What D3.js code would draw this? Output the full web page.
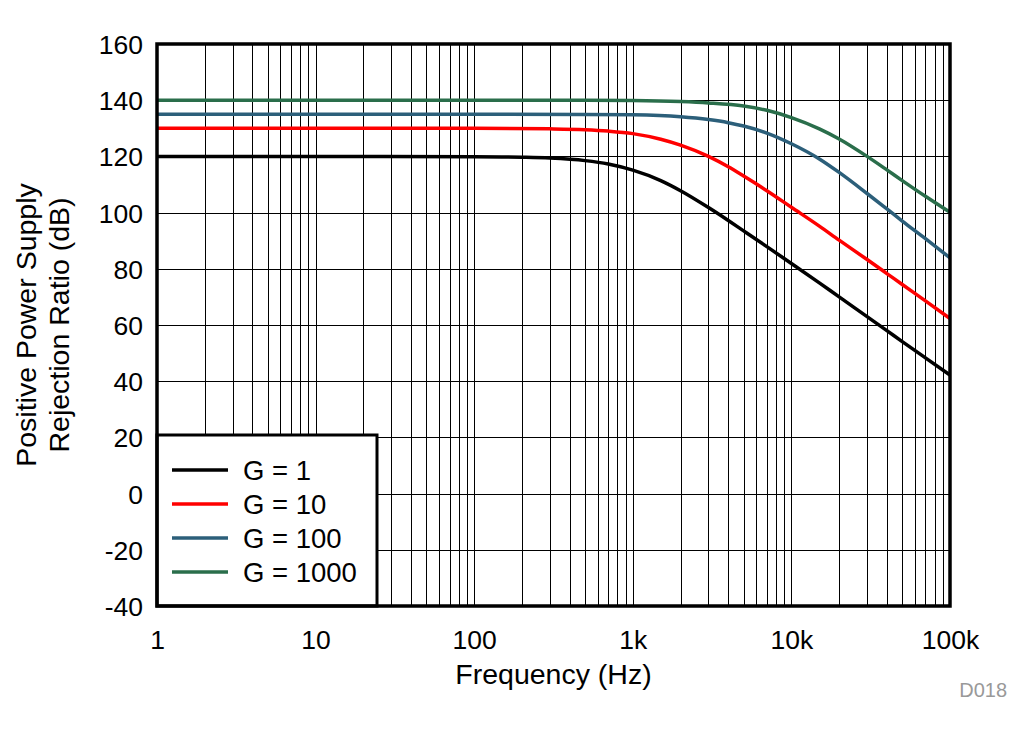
<!DOCTYPE html>
<html>
<head>
<meta charset="utf-8">
<script src="https://cdn.jsdelivr.net/npm/d3@7"></script>
<style>
  html, body { margin: 0; padding: 0; background: #fff; }
  svg { display: block; font-family: "Liberation Sans", Arial, sans-serif; }
</style>
</head>
<body>
<svg id="chart" width="1033" height="734"></svg>
<script>
// ---------------- data ----------------
const freqs1 = [1, 10, 100, 200, 300, 500, 700, 1000, 1500, 2000, 3000, 4000, 5000, 7000, 10000, 15000, 20000, 30000, 40000, 50000, 70000, 100000];
const g1     = [120, 120, 119.9, 119.7, 119.4, 118.5, 117.3, 115.1, 111.4, 107.8, 101.8, 97.2, 93.5, 87.9, 81.9, 75.0, 70.0, 63.0, 58.0, 54.1, 48.3, 42.2];

const freqs10 = [1, 10, 100, 300, 500, 700, 1000, 1500, 2000, 3000, 4000, 5000, 7000, 10000, 15000, 20000, 30000, 40000, 50000, 70000, 100000];
const g10     = [130, 130, 130, 129.8, 129.5, 129.0, 128.1, 126.1, 124.0, 120.0, 116.3, 113.0, 107.8, 101.9, 95.2, 90.2, 83.3, 78.3, 74.4, 68.6, 62.3];

const freqs100 = [1, 10, 100, 500, 1000, 2000, 3000, 4000, 5000, 7000, 10000, 15000, 20000, 30000, 40000, 50000, 70000, 100000];
const g100     = [135, 135, 135, 134.95, 134.8, 134.1, 133.1, 132.0, 130.8, 128.3, 124.5, 119.1, 114.3, 106.8, 101.3, 97.0, 90.7, 83.9];

const freqs1000 = [1, 10, 100, 500, 1000, 2000, 3000, 5000, 7000, 10000, 15000, 20000, 30000, 40000, 50000, 70000, 100000];
const g1000     = [140, 140, 140, 140, 139.9, 139.5, 139.0, 137.9, 136.4, 133.8, 129.8, 126.2, 120.0, 115.2, 111.4, 105.8, 100.1];

const seriesNames = ["G = 1", "G = 10", "G = 100", "G = 1000"];
const seriesColors = ["#000000", "#ff0000", "#2c5f7a", "#2a6e4b"];

const xTickValues = [1, 10, 100, 1000, 10000, 100000];
const xTickLabels = ["1", "10", "100", "1k", "10k", "100k"];
const yTickValues = [-40, -20, 0, 20, 40, 60, 80, 100, 120, 140, 160];

const xTitle = "Frequency (Hz)";
const yTitleLines = ["Positive Power Supply", "Rejection Ratio (dB)"];
const footnote = "D018";

// ---------------- chart ----------------
const svg = d3.select("#chart");
const L = 157, R = 950, T = 44, B = 606;

const x = d3.scaleLog().domain([1, 1e5]).range([L, R]);
const y = d3.scaleLinear().domain([-40, 160]).range([B, T]);

// grid
const grid = svg.append("g").attr("stroke", "#000").attr("stroke-width", 1).attr("shape-rendering", "crispEdges");
const minorX = [];
for (let e = 0; e < 5; e++) for (let m = 1; m <= 9; m++) minorX.push(m * Math.pow(10, e));
grid.selectAll("line.vx").data(minorX).enter().append("line")
  .attr("x1", d => Math.round(x(d)) + 0.5).attr("x2", d => Math.round(x(d)) + 0.5)
  .attr("y1", T).attr("y2", B);
grid.selectAll("line.hy").data(yTickValues).enter().append("line")
  .attr("y1", d => Math.round(y(d)) + 0.5).attr("y2", d => Math.round(y(d)) + 0.5)
  .attr("x1", L).attr("x2", R);

// curves
const series = [
  { f: freqs1, v: g1 },
  { f: freqs10, v: g10 },
  { f: freqs100, v: g100 },
  { f: freqs1000, v: g1000 }
];
const line = d3.line().x(d => x(d[0])).y(d => y(d[1])).curve(d3.curveMonotoneX);
series.forEach((s, i) => {
  const pts = s.f.map((f, k) => [f, s.v[k]]);
  svg.append("path").datum(pts)
    .attr("d", line)
    .attr("fill", "none")
    .attr("stroke", seriesColors[i])
    .attr("stroke-width", 3.5);
});

// legend
const leg = svg.append("g");
leg.append("rect").attr("x", L).attr("y", 435).attr("width", 377 - L).attr("height", B - 435)
  .attr("fill", "#fff").attr("stroke", "#000").attr("stroke-width", 3);
seriesNames.forEach((n, i) => {
  const yy = 470 + i * 34;
  leg.append("line").attr("x1", 172).attr("x2", 228).attr("y1", yy).attr("y2", yy)
    .attr("stroke", seriesColors[i]).attr("stroke-width", 3.5);
  leg.append("text").attr("x", 243).attr("y", yy).attr("dy", "0.36em")
    .attr("font-size", 27.5).attr("fill", "#000").text(n);
});

// frame
svg.append("rect").attr("x", L).attr("y", T).attr("width", R - L).attr("height", B - T)
  .attr("fill", "none").attr("stroke", "#000").attr("stroke-width", 3.5);

// axes
const xAxis = d3.axisBottom(x).tickValues(xTickValues).tickFormat((d, i) => xTickLabels[i]).tickSize(0).tickPadding(0);
const gx = svg.append("g").attr("transform", `translate(0,${B})`).call(xAxis);
gx.select(".domain").remove();
gx.selectAll("text").attr("font-size", 26.5).attr("fill", "#000").attr("font-family", "Liberation Sans, Arial, sans-serif")
  .attr("dy", null).attr("y", 43);

const yAxis = d3.axisLeft(y).tickValues(yTickValues).tickFormat(d => String(d)).tickSize(0).tickPadding(0);
const gy = svg.append("g").attr("transform", `translate(143,0)`).call(yAxis);
gy.select(".domain").remove();
gy.selectAll("text").attr("font-size", 26.5).attr("fill", "#000").attr("font-family", "Liberation Sans, Arial, sans-serif")
  .attr("x", 0).attr("dy", "0.36em");

// titles
svg.append("text").attr("x", (L + R) / 2).attr("y", 684).attr("text-anchor", "middle")
  .attr("font-size", 28.5).attr("fill", "#000").text(xTitle);

yTitleLines.forEach((t, i) => {
  svg.append("text")
    .attr("transform", `translate(${36 + i * 33},${(T + B) / 2}) rotate(-90)`)
    .attr("text-anchor", "middle").attr("font-size", 28.5).attr("fill", "#000").text(t);
});

svg.append("text").attr("x", 1007).attr("y", 697).attr("text-anchor", "end")
  .attr("font-size", 20).attr("fill", "#999").text(footnote);
</script>
</body>
</html>
